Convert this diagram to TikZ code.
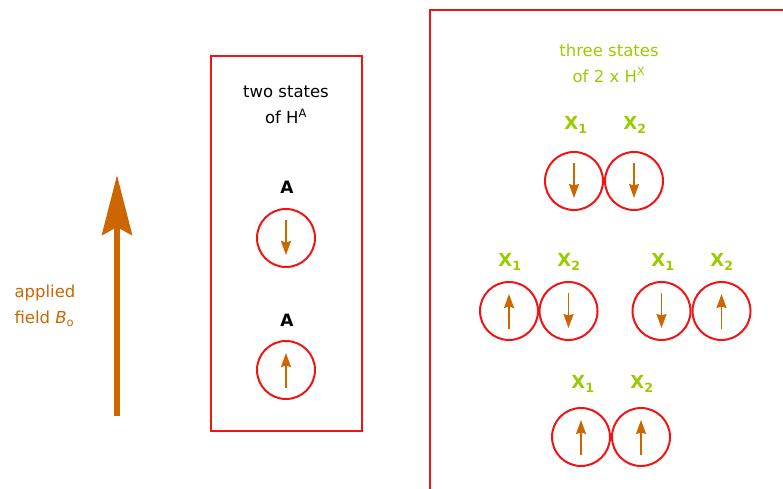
\documentclass[tikz,border=0pt]{standalone}
\usepackage{fontspec}
\setmainfont{DejaVu Sans}
\usetikzlibrary{arrows.meta}
\definecolor{fieldor}{RGB}{204,102,0}
\definecolor{boxred}{RGB}{240,20,20}
\definecolor{xgreen}{RGB}{153,204,0}
\begin{document}
\begin{tikzpicture}[x=1pt,y=-1pt,
  boxframe/.style={draw=boxred, line width=2pt},
  spin/.style={circle, draw=boxred, line width=2pt, minimum size=58pt, inner sep=0pt},
  spinarrow/.style={draw=fieldor, line width=1.8pt, -{Stealth[length=14pt,width=10pt,inset=1.5pt]}},
  caption/.style={font=\fontsize{16.5}{26}\selectfont, align=center},
  nuclab/.style={font=\fontsize{17}{18}\selectfont\bfseries},
  xlab/.style={font=\fontsize{18}{20}\selectfont\bfseries, text=xgreen}]
\useasboundingbox (0,0) rectangle (783,489);
% applied field
\coordinate (fb) at (117,416);
\coordinate (ft) at (117,175);
\draw[fieldor, line width=6pt, -{Stealth[length=60pt,width=30pt,inset=8pt]}] (fb) -- (ft);
\node[caption, align=left, anchor=west, text=fieldor] (fieldlab) at (11,306) {applied\\field {\itshape B}\textsubscript{o}};
% box A
\node[boxframe, minimum width=151pt, minimum height=375pt] (boxA) at (286.5,243.5) {};
\node[caption] (capA) at (286,105) {two states\\of H\textsuperscript{A}};
\node[nuclab] (la1) at (287,187) {A};
\node[spin] (a1) at (286,238) {};
\draw[spinarrow] (a1.center) +(0,-18) -- +(0,17);
\node[nuclab] (la2) at (287,320) {A};
\node[spin] (a2) at (286,370) {};
\draw[spinarrow] (a2.center) +(0,18) -- +(0,-17);
% box X
\coordinate (bxb) at (430,495);
\coordinate (bxr) at (795,10);
\draw[boxframe] (bxb) |- (bxr);
\node[caption, text=xgreen] (capX) at (609,63) {three states\\of 2 x H\textsuperscript{X}};
% row 1
\node[xlab] (l11) at (576,125) {X\textsubscript{1}};
\node[xlab] (l12) at (635,125) {X\textsubscript{2}};
\node[spin] (c11) at (574,181) {};
\node[spin] (c12) at (634,181) {};
\draw[spinarrow] (c11.center) +(0,-18) -- +(0,17);
\draw[spinarrow] (c12.center) +(0,-18) -- +(0,17);
% row 2 left
\node[xlab] (l21) at (510,262) {X\textsubscript{1}};
\node[xlab] (l22) at (569,262) {X\textsubscript{2}};
\node[spin] (c21) at (509,311) {};
\node[spin] (c22) at (568.5,311) {};
\draw[spinarrow] (c21.center) +(0,18) -- +(0,-17);
\draw[spinarrow] (c22.center) +(0,-18) -- +(0,17);
% row 2 right
\node[xlab] (l31) at (663,262) {X\textsubscript{1}};
\node[xlab] (l32) at (722,262) {X\textsubscript{2}};
\node[spin] (c31) at (661.5,311) {};
\node[spin] (c32) at (721.5,311) {};
\draw[spinarrow] (c31.center) +(0,-18) -- +(0,17);
\draw[spinarrow] (c32.center) +(0,18) -- +(0,-17);
% row 3
\node[xlab] (l41) at (583,384) {X\textsubscript{1}};
\node[xlab] (l42) at (642,384) {X\textsubscript{2}};
\node[spin] (c41) at (581,437) {};
\node[spin] (c42) at (641,437) {};
\draw[spinarrow] (c41.center) +(0,18) -- +(0,-17);
\draw[spinarrow] (c42.center) +(0,18) -- +(0,-17);
\end{tikzpicture}
\end{document}
